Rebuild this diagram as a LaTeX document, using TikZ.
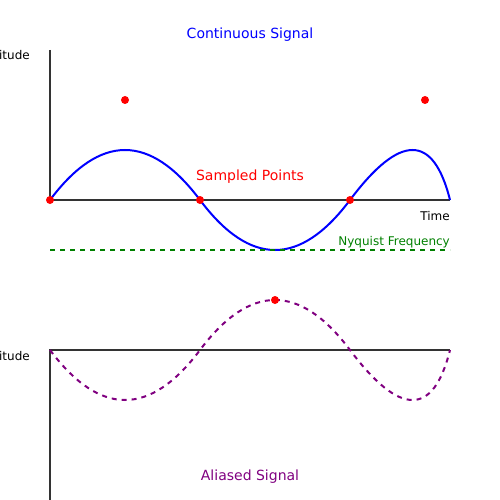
\documentclass[tikz,border=0pt]{standalone}
\usepackage{fontspec}
\setmainfont{DejaVu Sans}
\begin{document}
\begin{tikzpicture}[x=1pt,y=-1pt,
  axis/.style={draw=black!80, line width=2pt},
  dot/.style={circle, fill=red, inner sep=0pt, minimum size=8pt},
  lbl/.style={inner sep=0pt, font=\fontsize{12}{14}\selectfont},
  title/.style={inner sep=0pt, font=\fontsize{14}{16}\selectfont}]
\useasboundingbox (0,0) rectangle (500,500);
% top axes
\coordinate (o1) at (50,200);
\coordinate (ytop1) at (50,50);
\coordinate (xend1) at (450,200);
\draw[axis] (ytop1) -- (o1) -- (xend1);
% continuous signal
\draw[blue, line width=2pt] (50,200) .. controls (100,133.33) and (150,133.33) .. (200,200)
  .. controls (250,266.67) and (300,266.67) .. (350,200)
  .. controls (400,133.33) and (433.33,133.33) .. (450,200);
% nyquist line
\coordinate (ny1) at (50,250);
\coordinate (ny2) at (450,250);
\draw[green!50!black, line width=1.5pt, dash pattern=on 5pt off 5pt] (ny1) -- (ny2);
% sampled points
\node[dot] (s1) at (50,200) {};
\node[dot] (s2) at (125,100) {};
\node[dot] (s3) at (200,200) {};
\node[dot] (s4) at (350,200) {};
\node[dot] (s5) at (425,100) {};
% labels top
\node[title, text=blue] (t1) at (250,35) {Continuous Signal};
\node[title, text=red, anchor=base] (t2) at (250,180) {Sampled Points};
\node[lbl, anchor=base east] (time) at (450,220) {Time};
\node[lbl, anchor=base east, text=green!50!black] (nyq) at (450,245) {Nyquist Frequency};
\node[lbl, anchor=base east] (amp1) at (30,60) {Amplitude};
% bottom axes
\coordinate (o2) at (50,350);
\coordinate (ybot2) at (50,500);
\coordinate (xend2) at (450,350);
\draw[axis] (xend2) -- (o2) -- (ybot2);
% aliased signal
\draw[violet!70!purple, color={rgb,255:red,128;green,0;blue,128}, line width=2pt, dash pattern=on 5pt off 5pt]
  (50,350) .. controls (100,416.67) and (150,416.67) .. (200,350)
  .. controls (250,283.33) and (300,283.33) .. (350,350)
  .. controls (400,416.67) and (433.33,416.67) .. (450,350);
\node[dot] (s6) at (275,300) {};
\node[lbl, anchor=base east] (amp2) at (30,360) {Amplitude};
\node[title, anchor=base, text={rgb,255:red,128;green,0;blue,128}] (t3) at (250,480) {Aliased Signal};
\end{tikzpicture}
\end{document}
